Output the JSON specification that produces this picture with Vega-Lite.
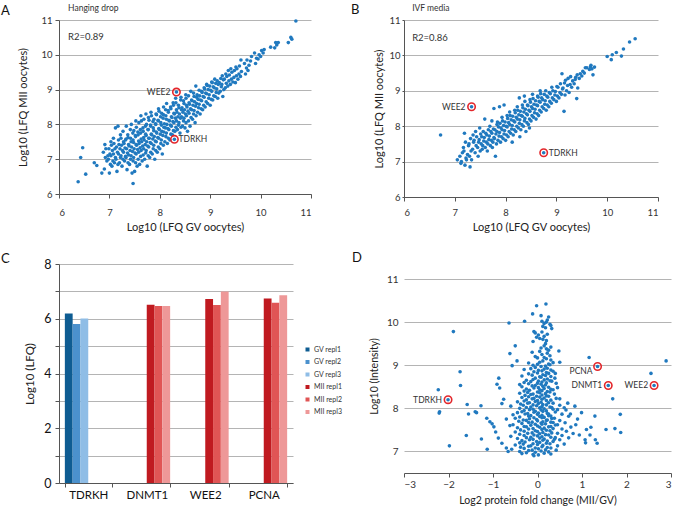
{
"$schema": "https://vega.github.io/schema/vega-lite/v6.json",
"padding": {"left": 1, "top": 3, "right": 0, "bottom": 0},
"background": "white",
"config": {
  "font": "Lato",
  "view": {"stroke": null},
  "axis": {"labelColor": "#333", "titleColor": "#222", "titleFontWeight": "normal", "domainColor": "#555", "tickColor": "#555", "gridColor": "#b4b4b4", "labelFont": "Lato", "titleFont": "Lato"},
  "title": {"fontWeight": "normal", "color": "#111", "anchor": "start", "frame": "group", "baseline": "bottom", "fontSize": 13}
},
"datasets": {
  "A": [
{"x":6.38,"y":6.35},{"x":6.43,"y":7.05},{"x":6.47,"y":7.33},{"x":6.53,"y":6.57},{"x":6.7,"y":6.9},{"x":6.75,"y":6.82},{"x":6.85,"y":6.6},{"x":7.47,"y":6.3},
{"x":6.9,"y":6.72},{"x":6.92,"y":7.05},{"x":6.88,"y":7.2},{"x":6.91,"y":7.42},{"x":6.95,"y":6.95},{"x":6.97,"y":7.1},{"x":6.93,"y":7.3},
{"x":7.0,"y":6.6},{"x":7.02,"y":6.85},{"x":6.98,"y":7.0},{"x":7.01,"y":7.15},{"x":6.99,"y":7.3},{"x":7.03,"y":7.5},
{"x":7.05,"y":6.8},{"x":7.07,"y":6.95},{"x":7.03,"y":7.1},{"x":7.06,"y":7.25},{"x":7.04,"y":7.4},{"x":7.08,"y":7.6},
{"x":7.1,"y":6.9},{"x":7.12,"y":7.05},{"x":7.08,"y":7.15},{"x":7.11,"y":7.3},{"x":7.09,"y":7.45},
{"x":7.15,"y":6.65},{"x":7.17,"y":6.85},{"x":7.13,"y":7.0},{"x":7.16,"y":7.2},{"x":7.14,"y":7.35},{"x":7.18,"y":7.55},{"x":7.12,"y":7.9},
{"x":7.2,"y":6.9},{"x":7.22,"y":7.05},{"x":7.18,"y":7.15},{"x":7.21,"y":7.3},{"x":7.19,"y":7.42},{"x":7.23,"y":7.6},{"x":7.17,"y":7.95},
{"x":7.25,"y":6.8},{"x":7.27,"y":7.0},{"x":7.23,"y":7.1},{"x":7.26,"y":7.25},{"x":7.24,"y":7.4},{"x":7.28,"y":7.5},{"x":7.22,"y":7.7},
{"x":7.3,"y":6.95},{"x":7.32,"y":7.08},{"x":7.28,"y":7.2},{"x":7.31,"y":7.32},{"x":7.29,"y":7.45},{"x":7.33,"y":7.58},{"x":7.27,"y":7.8},
{"x":7.35,"y":6.7},{"x":7.37,"y":6.9},{"x":7.33,"y":7.05},{"x":7.36,"y":7.18},{"x":7.34,"y":7.3},{"x":7.38,"y":7.42},{"x":7.32,"y":7.55},{"x":7.365,"y":7.7},{"x":7.335,"y":7.95},
{"x":7.4,"y":6.85},{"x":7.42,"y":7.0},{"x":7.38,"y":7.12},{"x":7.41,"y":7.25},{"x":7.39,"y":7.38},{"x":7.43,"y":7.5},{"x":7.37,"y":7.62},{"x":7.415,"y":7.85},
{"x":7.45,"y":6.6},{"x":7.47,"y":6.95},{"x":7.43,"y":7.1},{"x":7.46,"y":7.22},{"x":7.44,"y":7.35},{"x":7.48,"y":7.48},{"x":7.42,"y":7.6},{"x":7.465,"y":7.75},{"x":7.435,"y":8.0},
{"x":7.5,"y":6.65},{"x":7.52,"y":6.9},{"x":7.48,"y":7.05},{"x":7.51,"y":7.18},{"x":7.49,"y":7.3},{"x":7.53,"y":7.42},{"x":7.47,"y":7.55},{"x":7.515,"y":7.68},{"x":7.485,"y":7.82},{"x":7.525,"y":8.1},
{"x":7.55,"y":6.8},{"x":7.57,"y":7.0},{"x":7.53,"y":7.15},{"x":7.56,"y":7.28},{"x":7.54,"y":7.4},{"x":7.58,"y":7.52},{"x":7.52,"y":7.65},{"x":7.565,"y":7.78},{"x":7.535,"y":7.92},
{"x":7.6,"y":6.85},{"x":7.62,"y":7.08},{"x":7.58,"y":7.2},{"x":7.61,"y":7.33},{"x":7.59,"y":7.45},{"x":7.63,"y":7.58},{"x":7.57,"y":7.7},{"x":7.615,"y":7.85},{"x":7.585,"y":8.05},{"x":7.625,"y":8.25},
{"x":7.65,"y":6.95},{"x":7.67,"y":7.12},{"x":7.63,"y":7.25},{"x":7.66,"y":7.38},{"x":7.64,"y":7.5},{"x":7.68,"y":7.62},{"x":7.62,"y":7.75},{"x":7.665,"y":7.9},{"x":7.635,"y":8.1},
{"x":7.7,"y":7.0},{"x":7.72,"y":7.18},{"x":7.68,"y":7.3},{"x":7.71,"y":7.42},{"x":7.69,"y":7.55},{"x":7.73,"y":7.68},{"x":7.67,"y":7.8},{"x":7.715,"y":7.95},{"x":7.685,"y":8.15},{"x":7.725,"y":8.3},
{"x":7.75,"y":6.8},{"x":7.77,"y":7.1},{"x":7.73,"y":7.25},{"x":7.76,"y":7.38},{"x":7.74,"y":7.5},{"x":7.78,"y":7.6},{"x":7.72,"y":7.72},{"x":7.765,"y":7.85},{"x":7.735,"y":8.0},{"x":7.775,"y":8.2},
{"x":7.8,"y":7.05},{"x":7.82,"y":7.2},{"x":7.78,"y":7.35},{"x":7.81,"y":7.48},{"x":7.79,"y":7.6},{"x":7.83,"y":7.72},{"x":7.77,"y":7.85},{"x":7.815,"y":7.98},{"x":7.785,"y":8.12},{"x":7.825,"y":8.35},
{"x":7.85,"y":7.15},{"x":7.87,"y":7.3},{"x":7.83,"y":7.45},{"x":7.86,"y":7.58},{"x":7.84,"y":7.7},{"x":7.88,"y":7.82},{"x":7.82,"y":7.95},{"x":7.865,"y":8.08},{"x":7.835,"y":8.25},
{"x":7.9,"y":7.0},{"x":7.92,"y":7.25},{"x":7.88,"y":7.4},{"x":7.91,"y":7.52},{"x":7.89,"y":7.65},{"x":7.93,"y":7.78},{"x":7.87,"y":7.9},{"x":7.915,"y":8.02},{"x":7.885,"y":8.15},{"x":7.925,"y":8.3},
{"x":7.95,"y":7.2},{"x":7.97,"y":7.35},{"x":7.93,"y":7.5},{"x":7.96,"y":7.62},{"x":7.94,"y":7.75},{"x":7.98,"y":7.88},{"x":7.92,"y":8.0},{"x":7.965,"y":8.12},{"x":7.935,"y":8.28},{"x":7.975,"y":8.45},
{"x":8.0,"y":7.3},{"x":8.02,"y":7.45},{"x":7.98,"y":7.6},{"x":8.01,"y":7.72},{"x":7.99,"y":7.85},{"x":8.03,"y":7.98},{"x":7.97,"y":8.1},{"x":8.015,"y":8.22},{"x":7.985,"y":8.38},
{"x":8.05,"y":7.15},{"x":8.07,"y":7.4},{"x":8.03,"y":7.55},{"x":8.06,"y":7.68},{"x":8.04,"y":7.8},{"x":8.08,"y":7.92},{"x":8.02,"y":8.05},{"x":8.065,"y":8.18},{"x":8.035,"y":8.32},{"x":8.075,"y":8.5},
{"x":8.1,"y":7.5},{"x":8.12,"y":7.65},{"x":8.08,"y":7.78},{"x":8.11,"y":7.9},{"x":8.09,"y":8.02},{"x":8.13,"y":8.15},{"x":8.07,"y":8.28},{"x":8.115,"y":8.42},
{"x":8.15,"y":7.45},{"x":8.17,"y":7.6},{"x":8.13,"y":7.75},{"x":8.16,"y":7.88},{"x":8.14,"y":8.0},{"x":8.18,"y":8.12},{"x":8.12,"y":8.25},{"x":8.165,"y":8.4},{"x":8.135,"y":8.6},
{"x":8.2,"y":7.55},{"x":8.22,"y":7.72},{"x":8.18,"y":7.85},{"x":8.21,"y":7.98},{"x":8.19,"y":8.1},{"x":8.23,"y":8.22},{"x":8.17,"y":8.35},{"x":8.215,"y":8.5},
{"x":8.25,"y":7.7},{"x":8.27,"y":7.82},{"x":8.23,"y":7.95},{"x":8.26,"y":8.08},{"x":8.24,"y":8.2},{"x":8.28,"y":8.32},{"x":8.22,"y":8.45},{"x":8.265,"y":8.62},
{"x":8.3,"y":7.8},{"x":8.32,"y":7.92},{"x":8.28,"y":8.05},{"x":8.31,"y":8.18},{"x":8.29,"y":8.3},{"x":8.33,"y":8.42},{"x":8.27,"y":8.55},{"x":8.315,"y":8.75},
{"x":8.35,"y":7.85},{"x":8.37,"y":7.98},{"x":8.33,"y":8.1},{"x":8.36,"y":8.22},{"x":8.34,"y":8.35},{"x":8.38,"y":8.48},{"x":8.32,"y":8.62},
{"x":8.4,"y":7.75},{"x":8.42,"y":7.92},{"x":8.38,"y":8.05},{"x":8.41,"y":8.18},{"x":8.39,"y":8.3},{"x":8.43,"y":8.42},{"x":8.37,"y":8.55},{"x":8.415,"y":8.7},
{"x":8.45,"y":7.95},{"x":8.47,"y":8.1},{"x":8.43,"y":8.22},{"x":8.46,"y":8.35},{"x":8.44,"y":8.48},{"x":8.48,"y":8.6},{"x":8.42,"y":8.78},
{"x":8.5,"y":7.9},{"x":8.52,"y":8.05},{"x":8.48,"y":8.18},{"x":8.51,"y":8.3},{"x":8.49,"y":8.42},{"x":8.53,"y":8.55},{"x":8.47,"y":8.68},{"x":8.515,"y":8.85},
{"x":8.55,"y":7.8},{"x":8.57,"y":8.1},{"x":8.53,"y":8.25},{"x":8.56,"y":8.38},{"x":8.54,"y":8.5},{"x":8.58,"y":8.62},{"x":8.52,"y":8.75},
{"x":8.6,"y":7.95},{"x":8.62,"y":8.2},{"x":8.58,"y":8.32},{"x":8.61,"y":8.45},{"x":8.59,"y":8.58},{"x":8.63,"y":8.7},{"x":8.57,"y":8.82},{"x":8.615,"y":8.95},
{"x":8.65,"y":8.15},{"x":8.67,"y":8.3},{"x":8.63,"y":8.42},{"x":8.66,"y":8.55},{"x":8.64,"y":8.68},{"x":8.68,"y":8.8},
{"x":8.7,"y":8.05},{"x":8.72,"y":8.25},{"x":8.68,"y":8.4},{"x":8.71,"y":8.52},{"x":8.69,"y":8.65},{"x":8.73,"y":8.78},{"x":8.67,"y":8.9},{"x":8.715,"y":9.1},
{"x":8.75,"y":8.35},{"x":8.77,"y":8.48},{"x":8.73,"y":8.6},{"x":8.76,"y":8.72},{"x":8.74,"y":8.85},{"x":8.78,"y":8.98},
{"x":8.8,"y":8.3},{"x":8.82,"y":8.45},{"x":8.78,"y":8.58},{"x":8.81,"y":8.7},{"x":8.79,"y":8.82},{"x":8.83,"y":8.95},
{"x":8.85,"y":8.42},{"x":8.87,"y":8.55},{"x":8.83,"y":8.68},{"x":8.86,"y":8.8},{"x":8.84,"y":8.92},{"x":8.88,"y":9.05},
{"x":8.9,"y":8.5},{"x":8.92,"y":8.65},{"x":8.88,"y":8.78},{"x":8.91,"y":8.9},{"x":8.89,"y":9.02},{"x":8.93,"y":9.15},
{"x":8.95,"y":8.6},{"x":8.97,"y":8.75},{"x":8.93,"y":8.88},{"x":8.96,"y":9.0},{"x":8.94,"y":9.12},
{"x":9.0,"y":8.55},{"x":9.02,"y":8.72},{"x":8.98,"y":8.85},{"x":9.01,"y":8.98},{"x":8.99,"y":9.1},{"x":9.03,"y":9.22},
{"x":9.05,"y":8.7},{"x":9.07,"y":8.82},{"x":9.03,"y":8.95},{"x":9.06,"y":9.08},{"x":9.04,"y":9.2},
{"x":9.1,"y":8.8},{"x":9.12,"y":8.92},{"x":9.08,"y":9.05},{"x":9.11,"y":9.18},{"x":9.09,"y":9.3},
{"x":9.15,"y":8.75},{"x":9.17,"y":8.9},{"x":9.13,"y":9.02},{"x":9.16,"y":9.15},{"x":9.14,"y":9.25},
{"x":9.2,"y":8.95},{"x":9.22,"y":9.08},{"x":9.18,"y":9.2},{"x":9.21,"y":9.32},
{"x":9.25,"y":8.8},{"x":9.27,"y":9.0},{"x":9.23,"y":9.15},{"x":9.26,"y":9.28},{"x":9.24,"y":9.4},
{"x":9.3,"y":9.05},{"x":9.32,"y":9.18},{"x":9.28,"y":9.3},{"x":9.31,"y":9.45},
{"x":9.35,"y":9.1},{"x":9.37,"y":9.25},{"x":9.33,"y":9.38},{"x":9.36,"y":9.55},
{"x":9.4,"y":9.15},{"x":9.42,"y":9.3},{"x":9.38,"y":9.42},{"x":9.41,"y":9.6},
{"x":9.45,"y":9.22},{"x":9.47,"y":9.35},{"x":9.43,"y":9.5},
{"x":9.5,"y":9.2},{"x":9.52,"y":9.4},{"x":9.48,"y":9.55},{"x":9.51,"y":9.65},
{"x":9.55,"y":9.3},{"x":9.57,"y":9.45},{"x":9.53,"y":9.6},
{"x":9.6,"y":9.38},{"x":9.62,"y":9.52},{"x":9.58,"y":9.68},{"x":9.61,"y":9.85},
{"x":9.7,"y":9.45},{"x":9.72,"y":9.62},{"x":9.68,"y":9.75},
{"x":9.75,"y":9.55},{"x":9.77,"y":9.7},{"x":9.73,"y":9.85},
{"x":9.8,"y":9.82},{"x":9.82,"y":9.95},
{"x":9.9,"y":9.75},{"x":9.92,"y":9.9},{"x":9.88,"y":10.05},
{"x":9.95,"y":9.88},{"x":9.97,"y":10.0},
{"x":10.0,"y":9.95},{"x":10.02,"y":10.12},
{"x":10.05,"y":10.05},{"x":10.07,"y":10.15},
{"x":10.2,"y":10.22},{"x":10.3,"y":10.35},{"x":10.32,"y":10.28},{"x":10.28,"y":10.2},{"x":10.35,"y":10.35},
{"x":10.55,"y":10.35},{"x":10.6,"y":10.5},{"x":10.62,"y":10.45},{"x":10.7,"y":10.97},
{"x":8.29,"y":7.57},{"x":8.33,"y":8.93}
  ],
  "B": [
{"x":6.72,"y":7.75},{"x":7.05,"y":7.05},{"x":7.1,"y":7.15},{"x":7.12,"y":6.95},{"x":7.15,"y":7.25},{"x":7.17,"y":7.4},{"x":7.13,"y":7.0},
{"x":7.2,"y":6.9},{"x":7.22,"y":7.1},{"x":7.18,"y":7.3},{"x":7.21,"y":7.55},{"x":7.19,"y":7.8},{"x":7.25,"y":7.2},{"x":7.27,"y":7.45},{"x":7.23,"y":7.05},
{"x":7.3,"y":6.85},{"x":7.32,"y":7.3},{"x":7.28,"y":7.5},{"x":7.31,"y":7.65},{"x":7.29,"y":7.15},{"x":7.35,"y":7.35},{"x":7.37,"y":7.55},{"x":7.33,"y":7.05},{"x":7.36,"y":7.75},
{"x":7.4,"y":7.25},{"x":7.42,"y":7.45},{"x":7.38,"y":7.6},{"x":7.41,"y":7.85},{"x":7.45,"y":7.4},{"x":7.47,"y":7.55},{"x":7.43,"y":7.7},{"x":7.46,"y":7.15},
{"x":7.5,"y":7.3},{"x":7.52,"y":7.5},{"x":7.48,"y":7.62},{"x":7.51,"y":7.78},{"x":7.49,"y":7.95},{"x":7.55,"y":7.45},{"x":7.57,"y":7.58},{"x":7.53,"y":7.7},{"x":7.56,"y":7.85},{"x":7.54,"y":7.35},
{"x":7.6,"y":7.4},{"x":7.62,"y":7.55},{"x":7.58,"y":7.68},{"x":7.61,"y":7.8},{"x":7.59,"y":8.2},{"x":7.65,"y":7.5},{"x":7.67,"y":7.62},{"x":7.63,"y":7.75},{"x":7.66,"y":7.9},{"x":7.64,"y":7.3},
{"x":7.7,"y":7.45},{"x":7.72,"y":7.6},{"x":7.68,"y":7.72},{"x":7.71,"y":7.85},{"x":7.69,"y":8.0},{"x":7.73,"y":8.15},{"x":7.75,"y":7.55},{"x":7.77,"y":7.68},{"x":7.73,"y":7.8},{"x":7.76,"y":7.92},{"x":7.74,"y":7.4},
{"x":7.8,"y":7.15},{"x":7.82,"y":7.5},{"x":7.78,"y":7.65},{"x":7.81,"y":7.78},{"x":7.79,"y":7.9},{"x":7.83,"y":8.05},{"x":7.77,"y":8.5},
{"x":7.85,"y":7.6},{"x":7.87,"y":7.72},{"x":7.83,"y":7.85},{"x":7.86,"y":7.98},{"x":7.84,"y":8.12},{"x":7.88,"y":8.55},
{"x":7.9,"y":7.55},{"x":7.92,"y":7.7},{"x":7.88,"y":7.82},{"x":7.91,"y":7.95},{"x":7.89,"y":8.08},{"x":7.93,"y":8.25},
{"x":7.95,"y":7.65},{"x":7.97,"y":7.78},{"x":7.93,"y":7.9},{"x":7.96,"y":8.02},{"x":7.94,"y":8.15},
{"x":8.0,"y":7.6},{"x":8.02,"y":7.75},{"x":7.98,"y":7.88},{"x":8.01,"y":8.0},{"x":7.99,"y":8.12},{"x":8.03,"y":8.3},{"x":7.97,"y":8.6},
{"x":8.05,"y":7.7},{"x":8.07,"y":7.85},{"x":8.03,"y":7.98},{"x":8.06,"y":8.1},{"x":8.04,"y":8.22},{"x":8.08,"y":8.4},
{"x":8.1,"y":7.8},{"x":8.12,"y":7.92},{"x":8.08,"y":8.05},{"x":8.11,"y":8.18},{"x":8.09,"y":8.3},{"x":8.13,"y":7.55},
{"x":8.15,"y":7.75},{"x":8.17,"y":7.9},{"x":8.13,"y":8.02},{"x":8.16,"y":8.15},{"x":8.14,"y":8.28},{"x":8.18,"y":8.45},
{"x":8.2,"y":7.85},{"x":8.22,"y":8.0},{"x":8.18,"y":8.12},{"x":8.21,"y":8.25},{"x":8.19,"y":8.38},{"x":8.23,"y":8.55},
{"x":8.25,"y":7.95},{"x":8.27,"y":8.08},{"x":8.23,"y":8.2},{"x":8.26,"y":8.32},{"x":8.24,"y":8.45},{"x":8.28,"y":7.7},
{"x":8.3,"y":7.9},{"x":8.32,"y":8.05},{"x":8.28,"y":8.18},{"x":8.31,"y":8.3},{"x":8.29,"y":8.42},{"x":8.33,"y":8.6},{"x":8.27,"y":8.8},
{"x":8.35,"y":8.0},{"x":8.37,"y":8.15},{"x":8.33,"y":8.28},{"x":8.36,"y":8.4},{"x":8.34,"y":8.52},{"x":8.38,"y":8.7},
{"x":8.4,"y":7.85},{"x":8.42,"y":8.1},{"x":8.38,"y":8.22},{"x":8.41,"y":8.35},{"x":8.39,"y":8.48},{"x":8.43,"y":8.6},{"x":8.37,"y":8.85},
{"x":8.45,"y":8.05},{"x":8.47,"y":8.2},{"x":8.43,"y":8.32},{"x":8.46,"y":8.45},{"x":8.44,"y":8.58},{"x":8.48,"y":8.75},
{"x":8.5,"y":8.15},{"x":8.52,"y":8.3},{"x":8.48,"y":8.42},{"x":8.51,"y":8.55},{"x":8.49,"y":8.68},{"x":8.53,"y":8.9},{"x":8.47,"y":7.95},
{"x":8.55,"y":8.25},{"x":8.57,"y":8.38},{"x":8.53,"y":8.5},{"x":8.56,"y":8.62},{"x":8.54,"y":8.78},
{"x":8.6,"y":8.2},{"x":8.62,"y":8.35},{"x":8.58,"y":8.48},{"x":8.61,"y":8.6},{"x":8.59,"y":8.72},{"x":8.63,"y":8.85},
{"x":8.65,"y":8.3},{"x":8.67,"y":8.45},{"x":8.63,"y":8.58},{"x":8.66,"y":8.7},{"x":8.64,"y":8.82},{"x":8.68,"y":9.0},
{"x":8.7,"y":8.4},{"x":8.72,"y":8.55},{"x":8.68,"y":8.68},{"x":8.71,"y":8.8},{"x":8.69,"y":8.92},
{"x":8.75,"y":8.5},{"x":8.77,"y":8.62},{"x":8.73,"y":8.75},{"x":8.76,"y":8.9},
{"x":8.8,"y":8.45},{"x":8.82,"y":8.6},{"x":8.78,"y":8.72},{"x":8.81,"y":8.85},{"x":8.79,"y":9.0},
{"x":8.85,"y":8.55},{"x":8.87,"y":8.7},{"x":8.83,"y":8.82},{"x":8.86,"y":8.95},
{"x":8.9,"y":8.65},{"x":8.92,"y":8.8},{"x":8.88,"y":8.92},{"x":8.91,"y":9.1},
{"x":8.95,"y":8.75},{"x":8.97,"y":8.88},{"x":8.93,"y":9.0},
{"x":9.0,"y":8.7},{"x":9.02,"y":8.85},{"x":8.98,"y":8.98},{"x":9.01,"y":9.12},
{"x":9.05,"y":8.8},{"x":9.07,"y":8.95},{"x":9.03,"y":9.1},
{"x":9.1,"y":8.9},{"x":9.12,"y":9.05},{"x":9.08,"y":9.2},{"x":9.11,"y":9.48},
{"x":9.15,"y":8.42},{"x":9.17,"y":8.88},{"x":9.13,"y":9.08},{"x":9.16,"y":9.22},
{"x":9.2,"y":9.0},{"x":9.22,"y":9.15},{"x":9.18,"y":9.3},
{"x":9.25,"y":8.95},{"x":9.27,"y":9.18},{"x":9.23,"y":9.35},
{"x":9.3,"y":9.1},{"x":9.32,"y":9.28},{"x":9.28,"y":9.4},
{"x":9.35,"y":9.2},{"x":9.37,"y":9.32},
{"x":9.4,"y":8.78},{"x":9.42,"y":9.08},{"x":9.38,"y":9.38},{"x":9.41,"y":9.45},
{"x":9.45,"y":9.35},{"x":9.47,"y":9.48},{"x":9.5,"y":9.42},{"x":9.52,"y":9.55},{"x":9.55,"y":9.5},{"x":9.57,"y":9.65},
{"x":9.6,"y":9.65},{"x":9.65,"y":9.6},{"x":9.67,"y":9.68},{"x":9.7,"y":9.62},{"x":9.72,"y":9.45},{"x":9.68,"y":9.72},{"x":9.75,"y":9.67},
{"x":10.0,"y":9.97},{"x":10.08,"y":9.88},{"x":10.1,"y":10.02},{"x":10.18,"y":10.08},{"x":10.28,"y":9.98},{"x":10.32,"y":10.18},{"x":10.44,"y":10.38},{"x":10.55,"y":10.47},
{"x":7.33,"y":8.55},{"x":8.75,"y":7.25}
  ],
  "D": [
{"x":-1.89,"y":9.78},{"x":-1.74,"y":8.85},{"x":-1.73,"y":8.53},{"x":-2.23,"y":8.43},{"x":-2.01,"y":8.2},{"x":-2.2,"y":7.92},{"x":-2.21,"y":7.89},{"x":-1.58,"y":8.09},{"x":-1.55,"y":7.87},{"x":-1.4,"y":7.92},{"x":-1.37,"y":7.9},{"x":-1.27,"y":8.06},{"x":-1.6,"y":7.37},{"x":-1.98,"y":7.13},{"x":-1.26,"y":7.29},{"x":-1.13,"y":7.05},{"x":-1.14,"y":7.77},{"x":-1.07,"y":7.69},{"x":-1.02,"y":7.64},{"x":-0.98,"y":7.57},{"x":-0.94,"y":7.45},{"x":-0.88,"y":7.31},{"x":-0.8,"y":7.19},{"x":-0.7,"y":7.08},{"x":-0.66,"y":7.0},{"x":-0.91,"y":8.56},{"x":-0.87,"y":8.7},{"x":-0.85,"y":8.47},{"x":-0.76,"y":8.21},{"x":-0.8,"y":8.11},{"x":-0.64,"y":9.98},{"x":-0.5,"y":9.45},{"x":-0.62,"y":9.27},{"x":-0.57,"y":8.99},{"x":-0.46,"y":9.1},{"x":-0.29,"y":10.02},{"x":-0.02,"y":10.38},{"x":0.19,"y":10.42},{"x":-0.11,"y":10.19},{"x":0.08,"y":10.15},{"x":0.25,"y":10.12},
{"x":1.16,"y":9.18},{"x":1.35,"y":8.97},{"x":1.59,"y":8.53},{"x":2.62,"y":8.53},{"x":2.55,"y":8.81},{"x":2.89,"y":9.1},{"x":1.69,"y":8.22},{"x":1.86,"y":7.86},{"x":1.74,"y":7.53},{"x":1.87,"y":7.44},{"x":1.54,"y":7.51},{"x":1.29,"y":7.82},{"x":1.2,"y":7.56},{"x":1.3,"y":7.27},{"x":1.34,"y":7.19},{"x":1.1,"y":7.51},{"x":1.18,"y":7.38},{"x":1.07,"y":7.27},{"x":1.08,"y":7.2},{"x":0.94,"y":7.38},{"x":0.86,"y":7.62},{"x":0.99,"y":7.9},{"x":0.9,"y":7.75},{"x":0.84,"y":8.05},{"x":0.68,"y":8.12},{"x":0.64,"y":7.96},{"x":0.74,"y":7.87},{"x":0.48,"y":9.33},{"x":0.5,"y":9.07},{"x":0.4,"y":8.81},{"x":0.39,"y":8.7},
{"x":0.22,"y":10.05},{"x":0.2,"y":10.0},{"x":0.1,"y":10.02},{"x":0.28,"y":9.95},{"x":0.15,"y":9.97},{"x":0.12,"y":9.9},{"x":0.3,"y":9.92},{"x":0.32,"y":9.85},{"x":0.18,"y":9.87},{"x":-0.08,"y":9.78},{"x":-0.05,"y":9.75},{"x":0.1,"y":9.77},{"x":0.02,"y":9.7},{"x":0.22,"y":9.72},{"x":-0.02,"y":9.65},{"x":0.15,"y":9.67},{"x":0.12,"y":9.6},{"x":0.05,"y":9.62},{"x":-0.1,"y":9.55},{"x":0.2,"y":9.57},{"x":0.18,"y":9.5},{"x":0.15,"y":9.45},{"x":0.08,"y":9.4},{"x":0.3,"y":9.42},{"x":0.2,"y":9.38},{"x":0.25,"y":9.35},{"x":-0.12,"y":9.3},{"x":0.05,"y":9.32},{"x":0.22,"y":9.28},{"x":0.1,"y":9.25},{"x":-0.05,"y":9.2},{"x":0.28,"y":9.22},{"x":0.15,"y":9.18},{"x":0.2,"y":9.15},{"x":0.0,"y":9.17},{"x":0.12,"y":9.1},{"x":0.3,"y":9.12},
{"x":-0.2,"y":9.05},{"x":0.05,"y":9.07},{"x":0.25,"y":9.03},{"x":0.35,"y":9.06},{"x":-0.1,"y":9.0},{"x":0.0,"y":9.02},{"x":0.18,"y":8.98},{"x":0.28,"y":9.01},{"x":-0.05,"y":8.95},{"x":0.08,"y":8.97},{"x":0.22,"y":8.93},
{"x":-0.3,"y":8.9},{"x":-0.15,"y":8.92},{"x":0.02,"y":8.88},{"x":0.15,"y":8.91},{"x":0.3,"y":8.89},{"x":-0.08,"y":8.85},{"x":0.1,"y":8.87},{"x":0.2,"y":8.83},{"x":0.35,"y":8.86},{"x":-0.2,"y":8.8},{"x":0.0,"y":8.82},{"x":0.12,"y":8.78},{"x":0.25,"y":8.81},
{"x":-0.35,"y":8.75},{"x":-0.12,"y":8.77},{"x":0.05,"y":8.73},{"x":0.18,"y":8.76},{"x":0.3,"y":8.74},{"x":-0.05,"y":8.7},{"x":0.08,"y":8.72},{"x":0.22,"y":8.68},
{"x":-0.25,"y":8.65},{"x":-0.1,"y":8.67},{"x":0.02,"y":8.63},{"x":0.15,"y":8.66},{"x":0.28,"y":8.64},{"x":-0.3,"y":8.6},{"x":-0.15,"y":8.62},{"x":0.0,"y":8.58},{"x":0.1,"y":8.61},{"x":0.2,"y":8.59},{"x":0.32,"y":8.63},
{"x":-0.4,"y":8.55},{"x":-0.2,"y":8.57},{"x":-0.05,"y":8.53},{"x":0.08,"y":8.56},{"x":0.18,"y":8.54},{"x":0.42,"y":8.58},{"x":-0.35,"y":8.5},{"x":-0.12,"y":8.52},{"x":0.02,"y":8.48},{"x":0.12,"y":8.51},{"x":0.25,"y":8.49},
{"x":-0.25,"y":8.45},{"x":-0.08,"y":8.47},{"x":0.05,"y":8.43},{"x":0.15,"y":8.46},{"x":0.3,"y":8.44},{"x":0.45,"y":8.48},{"x":-0.3,"y":8.4},{"x":-0.18,"y":8.42},{"x":0.0,"y":8.38},{"x":0.1,"y":8.41},{"x":0.22,"y":8.39},{"x":0.35,"y":8.43},
{"x":-0.4,"y":8.35},{"x":-0.22,"y":8.37},{"x":-0.1,"y":8.33},{"x":0.05,"y":8.36},{"x":0.18,"y":8.34},{"x":0.28,"y":8.38},{"x":-0.28,"y":8.3},{"x":-0.15,"y":8.32},{"x":-0.02,"y":8.28},{"x":0.1,"y":8.31},{"x":0.2,"y":8.29},{"x":0.38,"y":8.33},
{"x":-0.35,"y":8.25},{"x":-0.2,"y":8.27},{"x":-0.08,"y":8.23},{"x":0.05,"y":8.26},{"x":0.15,"y":8.24},{"x":0.25,"y":8.28},{"x":0.5,"y":8.22},{"x":-0.25,"y":8.2},{"x":-0.12,"y":8.22},{"x":0.0,"y":8.18},{"x":0.1,"y":8.21},{"x":0.3,"y":8.19},{"x":0.42,"y":8.23},
{"x":-0.45,"y":8.15},{"x":-0.3,"y":8.17},{"x":-0.18,"y":8.13},{"x":-0.05,"y":8.16},{"x":0.08,"y":8.14},{"x":0.2,"y":8.18},{"x":0.35,"y":8.12},{"x":-0.38,"y":8.1},{"x":-0.22,"y":8.12},{"x":-0.1,"y":8.08},{"x":0.02,"y":8.11},{"x":0.12,"y":8.09},{"x":0.25,"y":8.13},{"x":0.5,"y":8.07},
{"x":-0.6,"y":8.05},{"x":-0.32,"y":8.07},{"x":-0.15,"y":8.03},{"x":-0.02,"y":8.06},{"x":0.1,"y":8.04},{"x":0.2,"y":8.08},{"x":0.32,"y":8.02},{"x":-0.4,"y":8.0},{"x":-0.25,"y":8.02},{"x":-0.1,"y":7.98},{"x":0.05,"y":8.01},{"x":0.15,"y":7.99},{"x":0.28,"y":8.03},{"x":0.45,"y":7.97},{"x":0.6,"y":8.015},
{"x":-0.3,"y":7.95},{"x":-0.18,"y":7.97},{"x":-0.05,"y":7.93},{"x":0.08,"y":7.96},{"x":0.2,"y":7.94},{"x":0.35,"y":7.98},{"x":-0.45,"y":7.9},{"x":-0.35,"y":7.92},{"x":-0.22,"y":7.88},{"x":-0.08,"y":7.91},{"x":0.02,"y":7.89},{"x":0.12,"y":7.93},{"x":0.25,"y":7.87},{"x":0.4,"y":7.915},
{"x":-0.55,"y":7.85},{"x":-0.28,"y":7.87},{"x":-0.15,"y":7.83},{"x":0.0,"y":7.86},{"x":0.1,"y":7.84},{"x":0.22,"y":7.88},{"x":0.3,"y":7.82},{"x":0.55,"y":7.865},{"x":-0.4,"y":7.8},{"x":-0.2,"y":7.82},{"x":-0.08,"y":7.78},{"x":0.05,"y":7.81},{"x":0.15,"y":7.79},{"x":0.25,"y":7.83},{"x":0.38,"y":7.77},{"x":0.7,"y":7.815},
{"x":-0.7,"y":7.75},{"x":-0.5,"y":7.77},{"x":-0.32,"y":7.73},{"x":-0.18,"y":7.76},{"x":-0.02,"y":7.74},{"x":0.1,"y":7.78},{"x":0.2,"y":7.72},{"x":0.32,"y":7.765},{"x":-0.42,"y":7.7},{"x":-0.25,"y":7.72},{"x":-0.12,"y":7.68},{"x":0.0,"y":7.71},{"x":0.12,"y":7.69},{"x":0.22,"y":7.73},{"x":0.35,"y":7.67},{"x":0.5,"y":7.715},
{"x":-0.35,"y":7.65},{"x":-0.2,"y":7.67},{"x":-0.05,"y":7.63},{"x":0.08,"y":7.66},{"x":0.18,"y":7.64},{"x":0.3,"y":7.68},{"x":0.45,"y":7.62},{"x":0.62,"y":7.665},{"x":-0.62,"y":7.6},{"x":-0.55,"y":7.62},{"x":-0.3,"y":7.58},{"x":-0.15,"y":7.61},{"x":0.0,"y":7.59},{"x":0.1,"y":7.63},{"x":0.25,"y":7.57},{"x":0.4,"y":7.615},
{"x":-0.45,"y":7.55},{"x":-0.25,"y":7.57},{"x":-0.1,"y":7.53},{"x":0.05,"y":7.56},{"x":0.15,"y":7.54},{"x":0.3,"y":7.58},{"x":0.55,"y":7.52},{"x":0.75,"y":7.565},{"x":-0.38,"y":7.5},{"x":-0.2,"y":7.52},{"x":-0.05,"y":7.48},{"x":0.1,"y":7.51},{"x":0.2,"y":7.49},{"x":0.35,"y":7.53},{"x":0.65,"y":7.47},
{"x":-0.5,"y":7.45},{"x":-0.3,"y":7.47},{"x":-0.12,"y":7.43},{"x":0.0,"y":7.46},{"x":0.12,"y":7.44},{"x":0.28,"y":7.48},{"x":0.45,"y":7.42},{"x":-0.4,"y":7.4},{"x":-0.22,"y":7.42},{"x":-0.08,"y":7.38},{"x":0.05,"y":7.41},{"x":0.18,"y":7.39},{"x":0.32,"y":7.43},{"x":0.55,"y":7.37},{"x":0.8,"y":7.415},
{"x":-0.6,"y":7.35},{"x":-0.3,"y":7.37},{"x":-0.15,"y":7.33},{"x":0.0,"y":7.36},{"x":0.1,"y":7.34},{"x":0.25,"y":7.38},{"x":0.4,"y":7.32},{"x":-0.45,"y":7.3},{"x":-0.25,"y":7.32},{"x":-0.1,"y":7.28},{"x":0.05,"y":7.31},{"x":0.15,"y":7.29},{"x":0.3,"y":7.33},{"x":0.5,"y":7.27},{"x":0.7,"y":7.315},
{"x":-0.35,"y":7.25},{"x":-0.18,"y":7.27},{"x":-0.02,"y":7.23},{"x":0.12,"y":7.26},{"x":0.22,"y":7.24},{"x":0.38,"y":7.28},{"x":-0.4,"y":7.2},{"x":-0.28,"y":7.22},{"x":-0.1,"y":7.18},{"x":0.05,"y":7.21},{"x":0.2,"y":7.19},{"x":0.35,"y":7.23},{"x":0.6,"y":7.17},
{"x":-0.5,"y":7.15},{"x":-0.32,"y":7.17},{"x":-0.15,"y":7.13},{"x":0.0,"y":7.16},{"x":0.12,"y":7.14},{"x":0.28,"y":7.18},{"x":-0.38,"y":7.1},{"x":-0.2,"y":7.12},{"x":-0.05,"y":7.08},{"x":0.1,"y":7.11},{"x":0.22,"y":7.09},{"x":0.45,"y":7.13},
{"x":-0.58,"y":7.05},{"x":-0.3,"y":7.07},{"x":-0.12,"y":7.03},{"x":0.02,"y":7.06},{"x":0.18,"y":7.04},{"x":0.3,"y":7.08},{"x":-0.4,"y":7.0},{"x":-0.2,"y":7.02},{"x":-0.05,"y":6.98},{"x":0.08,"y":7.01},{"x":0.25,"y":6.99},{"x":0.42,"y":7.03},
{"x":-0.35,"y":6.95},{"x":-0.25,"y":6.97},{"x":-0.1,"y":6.93},{"x":0.15,"y":6.96},{"x":0.3,"y":6.94},{"x":-0.08,"y":6.9},{"x":0.02,"y":6.92}
  ],
  "C": [
{"g":"TDRKH","s":"GV repl1","v":6.19},{"g":"TDRKH","s":"GV repl2","v":5.81},{"g":"TDRKH","s":"GV repl3","v":6.01},
{"g":"DNMT1","s":"MII repl1","v":6.51},{"g":"DNMT1","s":"MII repl2","v":6.47},{"g":"DNMT1","s":"MII repl3","v":6.47},
{"g":"WEE2","s":"MII repl1","v":6.72},{"g":"WEE2","s":"MII repl2","v":6.5},{"g":"WEE2","s":"MII repl3","v":7.0},
{"g":"PCNA","s":"MII repl1","v":6.74},{"g":"PCNA","s":"MII repl2","v":6.58},{"g":"PCNA","s":"MII repl3","v":6.86}
  ]
},
"spacing": 39,
"hconcat": [
{
  "spacing": 20,
  "vconcat": [
  {
    "width": 252, "height": 174,
    "title": {"text": "A", "dx": -58, "offset": -14.5},
    "encoding": {
      "x": {"field": "x", "type": "quantitative", "scale": {"domain": [6, 11], "nice": false, "zero": false},
            "axis": {"values": [6,7,8,9,10,11], "grid": false, "title": "Log10 (LFQ GV oocytes)", "tickSize": 4, "labelPadding": 9, "titlePadding": 5, "labelFontSize": 9.5, "titleFontSize": 11}},
      "y": {"field": "y", "type": "quantitative", "scale": {"domain": [6, 11], "nice": false, "zero": false},
            "axis": {"values": [6,7,8,9,10,11], "grid": true, "title": "Log10 (LFQ MII oocytes)", "tickSize": 4, "labelPadding": 3, "titlePadding": 12, "labelFontSize": 9.5, "titleFontSize": 11}}
    },
    "layer": [
      {"data": {"name": "A"}, "mark": {"type": "point", "filled": true, "size": 13, "color": "#2079bf", "opacity": 1}},
      {"data": {"values": [{"x": 8.33, "y": 8.93, "t": "WEE2"}, {"x": 8.29, "y": 7.57, "t": "TDRKH"}]},
       "mark": {"type": "point", "filled": false, "size": 55, "stroke": "#e3262b", "strokeWidth": 1.6, "opacity": 1}},
      {"data": {"values": [{"x": 8.33, "y": 8.93, "t": "WEE2"}]},
       "mark": {"type": "text", "align": "right", "baseline": "middle", "dx": -6, "fontSize": 8.5, "color": "#333"}, "encoding": {"text": {"field": "t"}}},
      {"data": {"values": [{"x": 8.29, "y": 7.57, "t": "TDRKH"}]},
       "mark": {"type": "text", "align": "left", "baseline": "middle", "dx": 4, "fontSize": 8.5, "color": "#333"}, "encoding": {"text": {"field": "t"}}},
      {"data": {"values": [{"x": 6.18, "y": 11.35, "t": "Hanging drop"}]},
       "mark": {"type": "text", "align": "left", "baseline": "middle", "fontSize": 8.5, "color": "#333"}, "encoding": {"text": {"field": "t"}}},
      {"data": {"values": [{"x": 6.18, "y": 10.51, "t": "R2=0.89"}]},
       "mark": {"type": "text", "align": "left", "baseline": "middle", "fontSize": 9.5, "color": "#333"}, "encoding": {"text": {"field": "t"}}}
    ]
  },
  {
    "width": 234, "height": 219,
    "title": {"text": "C", "dx": -58, "offset": -8},
    "data": {"name": "C"},
    "mark": {"type": "bar"},
    "encoding": {
      "x": {"field": "g", "type": "nominal", "sort": ["TDRKH", "DNMT1", "WEE2", "PCNA"], "scale": {"paddingInner": 0.2, "paddingOuter": 0.1},
            "axis": {"title": null, "labelAngle": 0, "tickBand": "extent", "tickSize": 4, "labelFontSize": 11.5, "labelPadding": 2, "labelColor": "#111"}},
      "xOffset": {"field": "s", "type": "nominal", "scale": {"domain": ["GV repl1", "GV repl2", "GV repl3", "MII repl1", "MII repl2", "MII repl3"], "paddingInner": 0, "paddingOuter": 0}},
      "y": {"field": "v", "type": "quantitative", "scale": {"domain": [0, 8], "nice": false},
            "axis": {"values": [0,1,2,3,4,5,6,7,8], "labelExpr": "datum.value % 2 === 0 ? datum.label : ''", "title": "Log10 (LFQ)", "grid": true, "tickSize": 4, "labelFontSize": 12.5, "titleFontSize": 11.5, "labelPadding": 4, "titlePadding": 8, "labelColor": "#111"}},
      "color": {"field": "s", "type": "nominal",
                "scale": {"domain": ["GV repl1", "GV repl2", "GV repl3", "MII repl1", "MII repl2", "MII repl3"], "range": ["#0e5c92", "#4b91cd", "#8fbde6", "#c01a20", "#e05555", "#ee9898"]},
                "legend": {"orient": "none", "legendX": 245, "legendY": 326, "title": null, "symbolType": "square", "symbolSize": 16, "labelFontSize": 7, "rowPadding": 4.5, "padding": 0, "labelOffset": 3, "symbolStrokeWidth": 0, "labelColor": "#333"}}
    }
  }
  ]
},
{
  "spacing": 18,
  "vconcat": [
  {
    "width": 254, "height": 177,
    "title": {"text": "B", "dx": -53, "offset": -13.5},
    "encoding": {
      "x": {"field": "x", "type": "quantitative", "scale": {"domain": [6, 11], "nice": false, "zero": false},
            "axis": {"values": [6,7,8,9,10,11], "grid": false, "title": "Log10 (LFQ GV oocytes)", "tickSize": 4, "labelPadding": 6, "titlePadding": 5, "labelFontSize": 9.5, "titleFontSize": 11}},
      "y": {"field": "y", "type": "quantitative", "scale": {"domain": [6, 11], "nice": false, "zero": false},
            "axis": {"values": [6,7,8,9,10,11], "grid": true, "title": "Log10 (LFQ MII oocytes)", "tickSize": 2, "labelPadding": 2, "titlePadding": 4, "labelFontSize": 9.5, "titleFontSize": 11}}
    },
    "layer": [
      {"data": {"name": "B"}, "mark": {"type": "point", "filled": true, "size": 13, "color": "#2079bf", "opacity": 1}},
      {"data": {"values": [{"x": 7.33, "y": 8.55, "t": "WEE2"}, {"x": 8.75, "y": 7.25, "t": "TDRKH"}]},
       "mark": {"type": "point", "filled": false, "size": 55, "stroke": "#e3262b", "strokeWidth": 1.6, "opacity": 1}},
      {"data": {"values": [{"x": 7.33, "y": 8.55, "t": "WEE2"}]},
       "mark": {"type": "text", "align": "right", "baseline": "middle", "dx": -6, "fontSize": 8.5, "color": "#333"}, "encoding": {"text": {"field": "t"}}},
      {"data": {"values": [{"x": 8.75, "y": 7.25, "t": "TDRKH"}]},
       "mark": {"type": "text", "align": "left", "baseline": "middle", "dx": 5, "fontSize": 8.5, "color": "#333"}, "encoding": {"text": {"field": "t"}}},
      {"data": {"values": [{"x": 6.16, "y": 11.35, "t": "IVF media"}]},
       "mark": {"type": "text", "align": "left", "baseline": "middle", "fontSize": 8.5, "color": "#333"}, "encoding": {"text": {"field": "t"}}},
      {"data": {"values": [{"x": 6.16, "y": 10.49, "t": "R2=0.86"}]},
       "mark": {"type": "text", "align": "left", "baseline": "middle", "fontSize": 9.5, "color": "#333"}, "encoding": {"text": {"field": "t"}}}
    ]
  },
  {
    "width": 267, "height": 194,
    "title": {"text": "D", "dx": -52, "offset": 9.5},
    "encoding": {
      "x": {"field": "x", "type": "quantitative", "scale": {"domain": [-3, 3], "nice": false, "zero": false},
            "axis": {"values": [-3,-2,-1,0,1,2,3], "grid": false, "title": "Log2 protein fold change (MII/GV)", "tickSize": 4, "labelPadding": 2, "titlePadding": 6, "labelFontSize": 10, "titleFontSize": 10.5}},
      "y": {"field": "y", "type": "quantitative", "scale": {"domain": [6.5, 11], "nice": false, "zero": false},
            "axis": {"values": [7,8,9,10,11], "grid": true, "domain": false, "ticks": false, "title": "Log10 (Intensity)", "labelPadding": 6, "titlePadding": 7, "labelFontSize": 10, "titleFontSize": 10.5}}
    },
    "layer": [
      {"mark": {"type": "rule", "color": "#666", "strokeWidth": 1.5}, "encoding": {"x": {"datum": 0}, "y": null}},
      {"data": {"name": "D"}, "mark": {"type": "point", "filled": true, "size": 13, "color": "#2079bf", "opacity": 1}},
      {"data": {"values": [{"x": -2.01, "y": 8.2, "t": "TDRKH"}, {"x": 1.35, "y": 8.97, "t": "PCNA"}, {"x": 1.59, "y": 8.53, "t": "DNMT1"}, {"x": 2.62, "y": 8.53, "t": "WEE2"}]},
       "mark": {"type": "point", "filled": false, "size": 55, "stroke": "#e3262b", "strokeWidth": 1.6, "opacity": 1}},
      {"data": {"values": [{"x": -2.01, "y": 8.2, "t": "TDRKH"}, {"x": 1.59, "y": 8.53, "t": "DNMT1"}, {"x": 2.62, "y": 8.53, "t": "WEE2"}]},
       "mark": {"type": "text", "align": "right", "baseline": "middle", "dx": -6, "fontSize": 8.5, "color": "#333"}, "encoding": {"text": {"field": "t"}}},
      {"data": {"values": [{"x": 1.35, "y": 8.97, "t": "PCNA"}]},
       "mark": {"type": "text", "align": "right", "baseline": "middle", "dx": -5, "dy": 4, "fontSize": 8.5, "color": "#333"}, "encoding": {"text": {"field": "t"}}}
    ]
  }
  ]
}
]
}
